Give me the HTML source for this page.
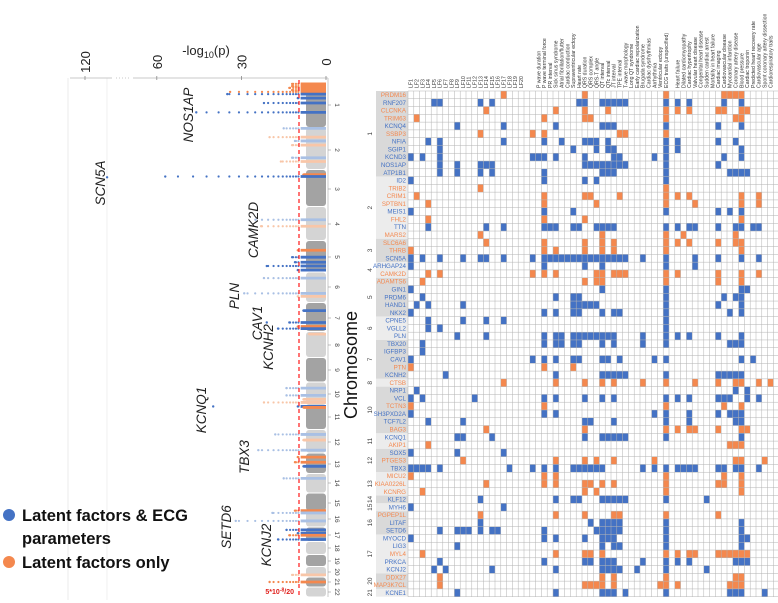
<!DOCTYPE html>
<html><head><meta charset="utf-8"><style>
html,body{margin:0;padding:0;background:#fff;}
svg{display:block;font-family:"Liberation Sans",sans-serif;}
</style></head><body>
<svg id="fig" width="778" height="603" viewBox="0 0 778 603" xmlns="http://www.w3.org/2000/svg">
<g id="manh"></g>
<g id="heat"></g>
<g id="legend">
  <circle cx="9" cy="515" r="6" fill="#4472c4"/>
  <text x="22" y="521" font-size="16.5" font-weight="bold" fill="#111">Latent factors &amp; ECG</text>
  <text x="22" y="544" font-size="16.5" font-weight="bold" fill="#111">parameters</text>
  <circle cx="9" cy="562" r="6" fill="#f4884e"/>
  <text x="22" y="568" font-size="16.5" font-weight="bold" fill="#111">Latent factors only</text>
</g>
</svg>
<script>
// ---------- Manhattan data ----------
const chrNames = ["1","2","3","4","5","6","7","8","9","10","11","12","13","14","15","16","17","18","19","20","21","22"];
const hitChr  = [1,1,1,1,1,1,1,1,1, 2,2,2,2,2,2, 3,3, 4,4, 5,5,5,5,5, 6,6,6, 7,7,7,7, 8, 10,10,10,10, 11,11, 12,12,12, 13,13,13, 14, 15, 16,16, 17,17,17,17, 20, 21];
const hitFrac = [.02,.07,.11,.16,.2,.25,.34,.45,.66, .02,.23,.32,.42,.72,.81, .14,.19, .39,.58, .31,.53,.69,.81,.94, .2,.7,.8, .28,.69,.83,.9, .1, .26,.57,.74,.87, .04,.08, .21,.45,.88, .2,.45,.65, .25, .98, .12,.62, .2,.43,.57,.86, .8, .5];
const hitVal  = [12,12,13,12,34,35,10,22,46, 15,20,11,12,12,16, 8,57, 25,23, 10,12,11,21,10, 22,29,10, 8,13,10,17, 6, 14,14,8,22, 10,8, 18,8,24, 10,11,8, 15, 11, 19,32, 14,10,13,17, 12, 20];
const hitCol  = ["o","o","o","o","o","b","b","b","b", "lb","lo","lb","lo","lb","lo", "o","b", "lb","lo", "o","b","b","b","b", "lb","lb","lo", "b","b","o","b", "lo", "lb","lb","lo","lo", "b","o", "lb","lo","lb", "o","o","b", "lb", "o", "lb","lb", "b","b","o","b", "lo", "o"];
const outChr  = [3, 7, 11];
const outFrac = [.21, .69, .04];
const outVal  = [93, 21, 40];
const geneLabels = ["SCN5A","NOS1AP","CAMK2D","PLN","CAV1","KCNH2","KCNQ1","TBX3","SETD6","KCNJ2"];
const xTickVals = [120, 60, 30, 0];

// ---------- Heatmap data ----------
const genes = ["PRDM16","RNF207","CLCNKA","TRIM63","KCNQ4","SSBP3","NFIA","SGIP1","KCND3","NOS1AP","ATP1B1",
"ID2","TRIB2","CRIM1","SPTBN1","MEIS1","FHL2","TTN","MARS2",
"SLC6A6","THRB","SCN5A","ARHGAP24","CAMK2D",
"ADAMTS6","GIN1","PRDM6","HAND1","NKX2","CPNE5","VGLL2","PLN",
"TBX20","IGFBP3","CAV1","PTN","KCNH2","CTSB",
"NRP1","VCL","TCTN3","SH3PXD2A","TCF7L2","BAG3","KCNQ1","AKIP1","SOX5","PTGES3","TBX3",
"MICU2","KIAA0226L","KCNRG","KLF12","MYH6","PGPEP1L","LITAF","SETD6",
"MYOCD","LIG3","MYL4","PRKCA","KCNJ2","DDX27","MAP3K7CL","KCNE1"];
const geneType = ["o","b","o","o","b","o","b","b","b","b","b",
"b","o","o","o","b","o","b","o",
"o","o","b","b","o",
"o","b","b","b","b","b","b","b",
"b","b","b","o","b","o",
"b","b","o","b","b","o","b","o","b","o","b",
"o","o","o","b","b","o","b","b",
"b","b","o","b","b","o","o","b"];
const geneChr = ["1","1","1","1","1","1","1","1","1","1","1",
"2","2","2","2","2","2","2","2",
"3","3","3","4","4",
"5","5","5","5","5","6","6","6",
"7","7","7","7","7","8",
"10","10","10","10","10","10","11","11","12","12","12",
"13","13","13","14","15","16","16","16",
"17","17","17","17","17","20","20","21"];
const colLabels = ["LF1","LF2","LF3","LF4","LF5","LF6","LF7","LF8","LF9","LF10","LF11","LF12","LF13","LF14","LF15","LF16","LF17","LF18","LF19","LF20","","",
"P wave duration","P wave terminal force","PR interval","Sick sinus syndrome","Atrial fibrillation/flutter","Cardiac conduction","Supraventricular ectopy","Heart rate","QRS duration","QRS complex","QRS-T angle","QT interval","QTc interval","JT interval","TPE interval","T-wave morphology","Long QT syndrome","Early cardiac repolarization","Brugada syndrome","Cardiac dysrhythmias","Arrhythmia","Ventricular ectopy","ECG traits (unspecified)","",
"Heart failure","Dilated cardiomyopathy","Cardiac hypertrophy","Valvular heart disease","Congenital heart disease","Sudden cardiac arrest","Mortality in heart failure","Cardiac imaging","Cardiovascular disease","Myocardial infarction","Coronary artery disease","Blood pressure","Cardiac troponin","Predicted heart recovery rate","Cardiovascular age","Spont coronary artery dissection","Cardiorespiratory traits",""];
const cells = [
[16,30,44,54,55,56,57],
[4,5,12,14,29,30,33,34,35,36,37,44,46,48,54,57],
[13,25,30,34,44,46,48,53,54,57,58],
[1,23,30,31,44,56,57],
[8,16,25,33,34,35,44,53,57],
[12,21,23,36,37,44],
[3,5,16,23,26,30,31,32,34,44,46,53,56],
[5,28,32,34,35,44,46,57],
[0,2,5,21,22,23,25,30,35,36,42,44,54,57],
[5,8,12,13,14,30,31,32,33,34,35,36,37,44,53],
[5,8,12,14,23,33,34,35,44,55,56,57,58],
[0,23,30,32,44],
[12,44],
[1,23,30,31,36,44,46,48,57,60],
[3,23,32,44,49,57,60],
[0,23,28,44,53,55,57],
[3,23,30,57],
[3,13,16,23,24,25,28,29,32,33,34,35,44,46,48,49,53,56,57,59,60],
[12,33,44,47,56],
[13,23,30,33,35,44,46,48,53,56,57],
[0,23,25,30,33,35,44,57],
[0,2,5,9,12,13,16,21,23,24,25,26,27,28,29,30,31,32,33,34,35,36,37,40,44,49,53,57,60],
[0,23,30,33,44,49],
[3,5,21,23,25,32,33,35,36,37,44,46,53,57,60],
[2,30,32,33,44,53,57],
[0,33,44,57,58],
[2,25,28,29,44,54,56,57],
[1,3,9,28,29,30,31,32,44,53,57],
[0,23,25,28,29,33,35,36,44,55,57],
[3,9,13,16,44],
[3,5,44],
[8,13,23,25,26,28,29,30,31,32,33,34,35,40,44,46,48,53,57],
[2,23,25,26,28,29,33,35,40,44,55,56,57],
[2],
[0,21,23,25,28,29,33,34,36,42,44,57,59],
[0,23,28],
[6,25,33,34,35,36,37,44,53,54,55,56,57],
[16,25,30,33,35,40,44,49,53,56,57,60,62],
[1,56,58],
[0,2,11,23,25,30,33,35,44,46,48,53,54,55,58,60],
[0,23,44,54,57],
[0,23,25,42,44,48,53,55,56,57],
[3,9,30,31,35,44,48,56,57],
[13,30,44,46,48,49,53,57,58],
[8,9,14,30,33,34,35,36,37,44,57],
[3,55,56,57],
[0,8,16],
[9,25,30,32,35,42,56,57,61],
[0,1,2,3,5,17,21,23,25,28,29,30,31,32,33,40,42,44,46,47,48,49,53,54,56,57,60],
[0,23,25,44,54,57],
[13,23,25,30,31,33,35,44,53,54,57],
[2,30,32,44,57],
[12,25,28,29,33,34,35,36,37,44,51],
[0,16],
[12,25,30,35,36,44,53],
[12,31,33,34,35,36,44,57],
[5,8,9,10,12,14,15,23,32,33,34,35,36,44,57],
[0,23,25,30,33,34,35,44,57,58],
[8,33,35,36,44,57],
[2,25,30,31,33,44,46,48,49,53,54,55,56,57,58],
[5,23,30,31,33,34,35,40,44,46,48,56,57,58],
[4,6,14,25,33,34,35,36,39,44,51],
[5,33,35,44,56,57],
[5,30,31,32,33,35,43,44,46,55,56,57],
[8,25,33,34,35,37,44,55,56,57,61]
];

// ---------- helpers ----------
const NS = "http://www.w3.org/2000/svg";
function mk(tag, attrs, parent){ const e=document.createElementNS(NS,tag); for(const k in attrs) e.setAttribute(k,attrs[k]); parent.appendChild(e); return e; }
const COL = {b:"#4472c4", o:"#f4884e", lb:"#a9c0e4", lo:"#f8c6a8"};

// ---------- Manhattan axes ----------
const M = document.getElementById("manh");
const chrCenter = [105,150,189,224,257,287,318,345,370,394,417,442,464,483,503,519,535,548,561,572,582,592];
function chrBounds(i){ const top = i===0?83:(chrCenter[i-1]+chrCenter[i])/2; const bot = i===chrCenter.length-1?597:(chrCenter[i]+chrCenter[i+1])/2; return [top,bot]; }
function yPos(chr, f){ const b=chrBounds(chr-1); return b[0]+f*(b[1]-b[0]); }
function xPos(v){ return v<=65 ? 326 - v*2.82 : 130 - (v-65)*45/55; }

let g;
g = mk("line",{x1:68,y1:78,x2:68,y2:600,stroke:"#e6e6e6","stroke-width":0.8},M);


g = mk("line",{x1:107,y1:78,x2:107,y2:600,stroke:"#ececec","stroke-width":0.8},M);



for(let i=0;i<chrNames.length;i++){
  const b=chrBounds(i);
  const r = mk("rect",{x:306,y:b[0]+0.5,width:20,height:b[1]-b[0]-1,rx:3,fill:i%2===0?"#a3a3a3":"#d4d4d4"},M);
  
  
}

for(let i=0;i<hitChr.length;i++){
  const y=yPos(hitChr[i],hitFrac[i]);
  const x0=xPos(0), x1=xPos(hitVal[i]);
  const c=COL[hitCol[i]];
  const hg = mk("g",{},M);
  
  
  const xm = Math.max(x1, xPos(Math.min(hitVal[i],9)));
  mk("line",{x1:x0,y1:y,x2:xm,y2:y,stroke:c,"stroke-width":2.8},hg);
  let step=2.2, x=xm;
  while(x-step>x1){ x-=step; mk("circle",{cx:x,cy:y,r:1.1,fill:c},hg); step*=1.12; }
  mk("circle",{cx:x1,cy:y,r:1.2,fill:c},hg);
}
for(let i=0;i<outChr.length;i++){
  const p = mk("circle",{cx:xPos(outVal[i]),cy:yPos(outChr[i],outFrac[i]),r:1.2,fill:COL.b},M);
  
  
}

g = mk("line",{x1:299,y1:80,x2:299,y2:597,stroke:"#ff2a2a","stroke-width":1.3,"stroke-dasharray":"4,3"},M);


g = mk("text",{x:294,y:594,"font-size":7,"font-weight":"bold",fill:"#e0201c","text-anchor":"end"},M);


g.innerHTML='5*10<tspan dy="-2.5" font-size="5">-8</tspan><tspan dy="2.5">/20</tspan>';

g = mk("line",{x1:133,y1:78,x2:328,y2:78,stroke:"#c8c8c8","stroke-width":1},M);


g = mk("line",{x1:70,y1:78,x2:112,y2:78,stroke:"#c8c8c8","stroke-width":1},M);


g = mk("line",{x1:116,y1:78,x2:130,y2:78,stroke:"#c8c8c8","stroke-width":1,"stroke-dasharray":"1,2"},M);


for(const v of xTickVals){
  const x=xPos(v);
  mk("line",{x1:x,y1:76,x2:x,y2:80,stroke:"#888","stroke-width":0.8},M);
  const t=mk("text",{x:0,y:0,"font-size":13,fill:"#222","text-anchor":"middle",transform:`translate(${x+5},${62}) rotate(-90)`},M);
  
  
  t.textContent=v;
}
g = mk("text",{x:206,y:55,"font-size":13,fill:"#222","text-anchor":"middle"},M);


g.innerHTML='-log<tspan font-size="9" dy="3">10</tspan><tspan dy="-3">(p)</tspan>';

g = mk("line",{x1:328,y1:78,x2:328,y2:597,stroke:"#c8c8c8","stroke-width":1},M);


for(let i=0;i<chrNames.length;i++){
  mk("line",{x1:328,y1:chrCenter[i],x2:331,y2:chrCenter[i],stroke:"#999","stroke-width":0.6},M);
  const t=mk("text",{x:0,y:0,"font-size":6.5,fill:"#444","text-anchor":"middle",transform:`translate(${335},${chrCenter[i]}) rotate(90)`},M);
  
  
  t.textContent=chrNames[i];
}
g = mk("text",{x:0,y:0,"font-size":18,fill:"#111","text-anchor":"middle",transform:"translate(357,365) rotate(-90)"},M);


g.textContent="Chromosome";

const glPos = [[100,183],[188,115],[253,230],[234,296],[257,323],[268,347],[201,410],[244,457],[226,527],[266,545]];
for(let i=0;i<geneLabels.length;i++){
  const t=mk("text",{x:0,y:0,"font-size":13.5,"font-style":"italic",fill:"#222","text-anchor":"middle",transform:`translate(${glPos[i][0]+5},${glPos[i][1]}) rotate(-90)`},M);
  
  
  t.textContent=geneLabels[i];
}

// ---------- Heatmap ----------
const H = document.getElementById("heat");
const GX=408, GY=91, CW=5.8, RH=7.78;
const nCols=colLabels.length, nRows=genes.length;
let start=0, grp=0;
for(let r=1;r<=nRows;r++){
  if(r===nRows || geneChr[r]!==geneChr[start]){
    const y0=GY+start*RH, h=(r-start)*RH;
    const bg=mk("rect",{x:376,y:y0,width:GX-376,height:h,fill:grp%2===0?"#d9d9d9":"#ececec"},H);
    
    
    const t=mk("text",{x:0,y:0,"font-size":6.5,fill:"#444","text-anchor":"middle",transform:`translate(${372},${y0+h/2}) rotate(-90)`},H);
    
    
    t.textContent=geneChr[start];
    start=r; grp++;
  }
}
for(let r=0;r<nRows;r++){
  const t=mk("text",{x:GX-2,y:GY+r*RH+RH-1.8,"font-size":6.2,fill:COL[geneType[r]],"text-anchor":"end"},H);
  
  
  t.textContent=genes[r];
}
for(let r=0;r<nRows;r++){
  for(const c of cells[r]){
    const rc=mk("rect",{x:GX+c*CW,y:GY+r*RH,width:CW,height:RH,fill:COL[geneType[r]]},H);
    
    
  }
}
let d="";
for(let c=0;c<=nCols;c++){ const x=GX+c*CW; d+=`M${x} ${GY}V${GY+nRows*RH}`; }
for(let r=0;r<=nRows;r++){ const y=GY+r*RH; d+=`M${GX} ${y}H${GX+nCols*CW}`; }
g = mk("path",{d:d,stroke:"#b3b3b3","stroke-width":0.5,fill:"none"},H);


for(let c=0;c<nCols;c++){
  if(!colLabels[c]) continue;
  const x=GX+c*CW+CW/2+1.8;
  const t=mk("text",{x:0,y:0,"font-size":5.2,fill:"#333",transform:`translate(${x},${GY-3}) rotate(-90)`},H);
  
  
  t.textContent=colLabels[c];
}
</script>
</body></html>
